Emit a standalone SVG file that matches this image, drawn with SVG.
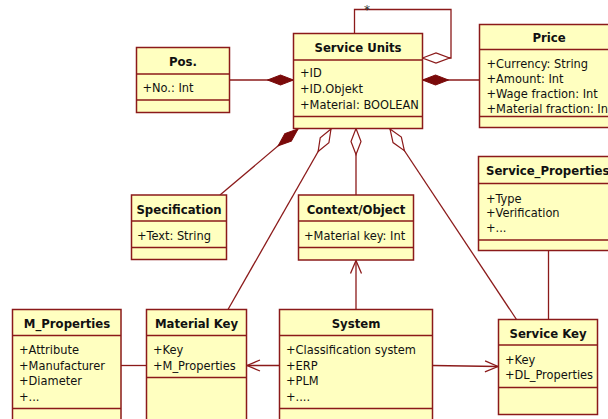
<svg xmlns="http://www.w3.org/2000/svg" width="608" height="419" viewBox="0 0 608 419">
  <style>
    .box { fill: #FFFFC0; stroke: #8B1A1A; stroke-width: 1.5; }
    .sep { stroke: #8B1A1A; stroke-width: 1.5; }
    .title { font-family: "DejaVu Sans Condensed", "DejaVu Sans", sans-serif; font-stretch: condensed; font-weight: bold; font-size: 13px; fill: #111; text-anchor: middle; }
    .attr { font-family: "DejaVu Sans Condensed", "DejaVu Sans", sans-serif; font-stretch: condensed; font-size: 12.7px; fill: #111; }
    .conn { fill: none; stroke: #8B1A1A; stroke-width: 1.3; }
    .mult { font-family: "DejaVu Sans", sans-serif; font-size: 12px; fill: #333; }
  </style>
  <defs>
    <marker id="compo" markerUnits="userSpaceOnUse" markerWidth="30" markerHeight="14" viewBox="-1 -7 30 14" refX="0" refY="0" orient="auto">
      <path d="M0,0 L13,-5 L26,0 L13,5 Z" fill="#7A0A0A" stroke="#7A0A0A" stroke-width="1"/>
    </marker>
    <marker id="aggr" markerUnits="userSpaceOnUse" markerWidth="30" markerHeight="14" viewBox="-1 -7 30 14" refX="0" refY="0" orient="auto">
      <path d="M0,0 L13,-5 L26,0 L13,5 Z" fill="#FFFFFF" stroke="#8B1A1A" stroke-width="1.2"/>
    </marker>
    <marker id="open" markerUnits="userSpaceOnUse" markerWidth="16" markerHeight="14" viewBox="-15 -7 16 14" refX="0" refY="0" orient="auto">
      <path d="M-13,-5.5 L0,0 L-13,5.5" fill="none" stroke="#8B1A1A" stroke-width="1.3"/>
    </marker>
  </defs>

  <g id="connectors">
    <!-- self association on Service Units -->
    <path class="conn" d="M354.5,33.5 V9.5 H451 V58 H449"/>
    <path class="conn" d="M422.5,58 L436,53 L449.5,58 L436,63 Z" fill="#FFFFFF"/>
    <text class="mult" x="364" y="14">*</text>
    <!-- compositions -->
    <path class="conn" d="M293.5,80 H229.5" marker-start="url(#compo)"/>
    <path class="conn" d="M422.5,80 H479.5" marker-start="url(#compo)"/>
    <path class="conn" d="M298,129 L220,195" marker-start="url(#compo)"/>
    <!-- aggregations -->
    <path class="conn" d="M331,129 L228,309.5" marker-start="url(#aggr)"/>
    <path class="conn" d="M356,128.5 V195" marker-start="url(#aggr)"/>
    <path class="conn" d="M390,129 L516.5,319.5" marker-start="url(#aggr)"/>
    <!-- directed associations from System -->
    <path class="conn" d="M356,309.5 V260.5" marker-end="url(#open)"/>
    <path class="conn" d="M279.5,365.5 H247" marker-end="url(#open)"/>
    <path class="conn" d="M432.5,365.5 L498,366.5" marker-end="url(#open)"/>
    <!-- plain associations -->
    <path class="conn" d="M121,365.5 H146.5"/>
    <path class="conn" d="M548.5,250 V319.5"/>
  </g>

  <g id="pos">
    <rect class="box" x="136.5" y="47.5" width="93" height="65"/>
    <line class="sep" x1="136.5" y1="74" x2="229.5" y2="74"/>
    <line class="sep" x1="136.5" y1="100" x2="229.5" y2="100"/>
    <text class="title" x="183" y="66">Pos.</text>
    <text class="attr" x="142.5" y="92">+No.: Int</text>
  </g>

  <g id="service-units">
    <rect class="box" x="293.5" y="33.5" width="129" height="95"/>
    <line class="sep" x1="293.5" y1="60" x2="422.5" y2="60"/>
    <line class="sep" x1="293.5" y1="116.5" x2="422.5" y2="116.5"/>
    <text class="title" x="358" y="51.5">Service Units</text>
    <text class="attr" x="300" y="77">+ID</text>
    <text class="attr" x="300" y="93">+ID.Objekt</text>
    <text class="attr" x="300" y="109">+Material: BOOLEAN</text>
  </g>

  <g id="price">
    <rect class="box" x="479.5" y="24.5" width="140" height="103"/>
    <line class="sep" x1="479.5" y1="49.5" x2="619.5" y2="49.5"/>
    <line class="sep" x1="479.5" y1="116.5" x2="619.5" y2="116.5"/>
    <text class="title" x="549" y="41.5">Price</text>
    <text class="attr" x="486.5" y="68">+Currency: String</text>
    <text class="attr" x="486.5" y="83">+Amount: Int</text>
    <text class="attr" x="486.5" y="98">+Wage fraction: Int</text>
    <text class="attr" x="486.5" y="113">+Material fraction: Int</text>
  </g>

  <g id="specification">
    <rect class="box" x="131.5" y="195" width="95" height="64.5"/>
    <line class="sep" x1="131.5" y1="221" x2="226.5" y2="221"/>
    <line class="sep" x1="131.5" y1="247.5" x2="226.5" y2="247.5"/>
    <text class="title" x="179" y="213.5">Specification</text>
    <text class="attr" x="137" y="240">+Text: String</text>
  </g>

  <g id="context-object">
    <rect class="box" x="298.5" y="195" width="115" height="65"/>
    <line class="sep" x1="298.5" y1="221" x2="413.5" y2="221"/>
    <line class="sep" x1="298.5" y1="247.5" x2="413.5" y2="247.5"/>
    <text class="title" x="356" y="213.5">Context/Object</text>
    <text class="attr" x="304" y="240">+Material key: Int</text>
  </g>

  <g id="service-properties">
    <rect class="box" x="478.5" y="156.5" width="140" height="94"/>
    <line class="sep" x1="478.5" y1="183.5" x2="618.5" y2="183.5"/>
    <line class="sep" x1="478.5" y1="240" x2="618.5" y2="240"/>
    <text class="title" x="486" y="175" style="text-anchor:start">Service_Properties</text>
    <text class="attr" x="486" y="203">+Type</text>
    <text class="attr" x="486" y="217">+Verification</text>
    <text class="attr" x="486" y="231.5">+...</text>
  </g>

  <g id="m-properties">
    <rect class="box" x="12.5" y="309.5" width="108.5" height="120"/>
    <line class="sep" x1="12.5" y1="335.5" x2="121" y2="335.5"/>
    <line class="sep" x1="12.5" y1="408.5" x2="121" y2="408.5"/>
    <text class="title" x="67" y="327.5">M_Properties</text>
    <text class="attr" x="19" y="354">+Attribute</text>
    <text class="attr" x="19" y="369.5">+Manufacturer</text>
    <text class="attr" x="19" y="384.5">+Diameter</text>
    <text class="attr" x="19" y="400.5">+...</text>
  </g>

  <g id="material-key">
    <rect class="box" x="146.5" y="309.5" width="100" height="120"/>
    <line class="sep" x1="146.5" y1="335.5" x2="246.5" y2="335.5"/>
    <line class="sep" x1="146.5" y1="377.5" x2="246.5" y2="377.5"/>
    <text class="title" x="196.5" y="327.5">Material Key</text>
    <text class="attr" x="153" y="354">+Key</text>
    <text class="attr" x="153" y="369.5">+M_Properties</text>
  </g>

  <g id="system">
    <rect class="box" x="279.5" y="309.5" width="153" height="120"/>
    <line class="sep" x1="279.5" y1="335.5" x2="432.5" y2="335.5"/>
    <line class="sep" x1="279.5" y1="408.5" x2="432.5" y2="408.5"/>
    <text class="title" x="356" y="327.5">System</text>
    <text class="attr" x="286" y="354">+Classification system</text>
    <text class="attr" x="286" y="369.5">+ERP</text>
    <text class="attr" x="286" y="384.5">+PLM</text>
    <text class="attr" x="286" y="400.5">+....</text>
  </g>

  <g id="service-key">
    <rect class="box" x="498.5" y="319.5" width="99" height="95"/>
    <line class="sep" x1="498.5" y1="345" x2="597.5" y2="345"/>
    <line class="sep" x1="498.5" y1="387.5" x2="597.5" y2="387.5"/>
    <text class="title" x="548" y="338">Service Key</text>
    <text class="attr" x="505" y="364">+Key</text>
    <text class="attr" x="505" y="378.5">+DL_Properties</text>
  </g>
</svg>
